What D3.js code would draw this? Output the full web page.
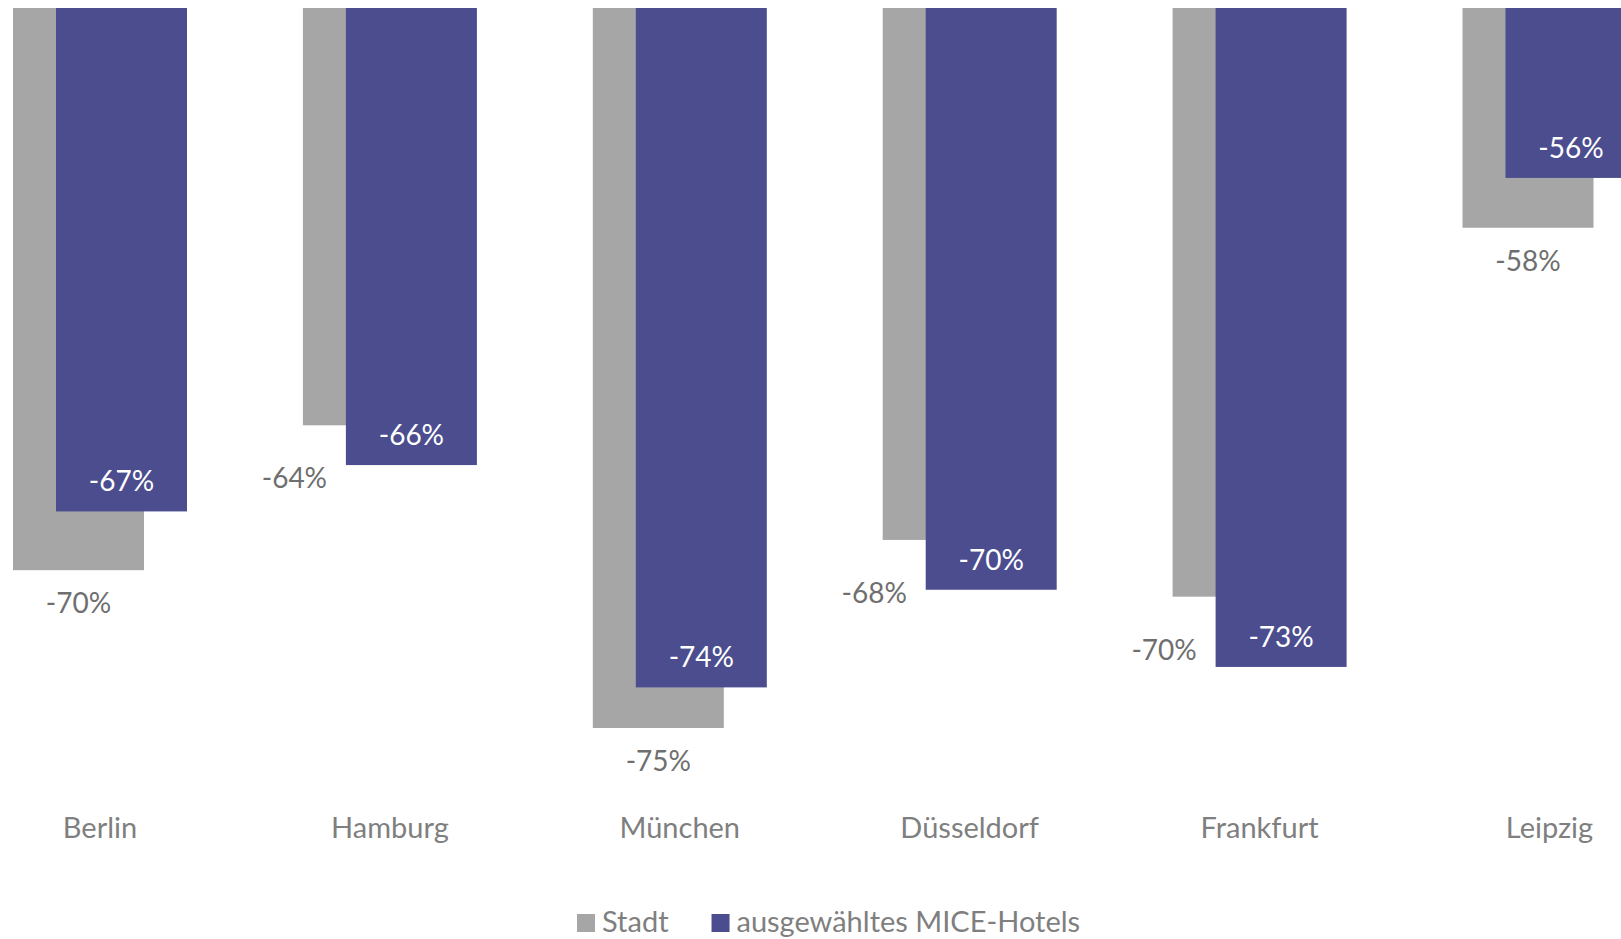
<html>

<head>
    <meta charset="utf-8">
    <script src="https://cdnjs.cloudflare.com/ajax/libs/d3/7.1.1/d3.js"></script>
    <style>
        body { margin: 0; overflow: hidden; background: #fff; }
    </style>
</head>

<body>
    <script>
        // chart data (in percent)
        const cities = ['Berlin', 'Hamburg', 'München', 'Düsseldorf', 'Frankfurt', 'Leipzig'];
        const series = ['Stadt', 'ausgewähltes MICE-Hotels'];
        const stadt = [-69.52, -64.49, -75.0, -68.47, -70.44, -57.63];
        const mice = [-67.48, -65.87, -73.59, -70.2, -72.88, -55.9];
        const colors = ['#A6A6A6', '#4B4D8F'];

        const width = 1621;
        const height = 939;
        const font = 'Lato, "Open Sans", sans-serif';
        const fontSize = 28;

        const svg = d3.select('body').append('svg')
            .attr('width', width)
            .attr('height', height);

        // value axis: top of the visible plot sits at -50%
        const y = d3.scaleLinear().domain([-50, -80]).range([8, 8 + 30 * 28.8]);
        const step = 289.9;
        const x = d3.scaleBand()
            .domain(cities)
            .range([100 - step / 2, 100 + step * (cities.length - 0.5)])
            .padding(0);
        const barW = 131;
        // overlapping bars inside each group
        const xs = d3.scalePoint().domain(series).range([-21.5, 21.5]);

        const rows = cities.map((c, i) => ({ city: c, values: [stadt[i], mice[i]] }));

        const g = svg.append('g');

        series.forEach((s, si) => {
            g.selectAll('.bar' + si)
                .data(rows)
                .enter().append('rect')
                .attr('class', 'bar' + si)
                .attr('x', d => x(d.city) + x.bandwidth() / 2 + xs(s) - barW / 2)
                .attr('y', y(-50))
                .attr('width', barW)
                .attr('height', d => y(d.values[si]) - y(-50))
                .style('fill', colors[si]);
        });

        const fmt = v => Math.round(v) + '%';

        // Stadt labels: below the grey bar, or moved left when the purple bar goes lower
        g.selectAll('.lab0')
            .data(rows)
            .enter().append('text')
            .attr('class', 'lab0')
            .attr('x', d => {
                const cx = x(d.city) + x.bandwidth() / 2 + xs(series[0]);
                return d.values[0] < d.values[1] ? cx : cx - 74;
            })
            .attr('y', d => y(d.values[0]) + (d.values[0] < d.values[1] ? 43 : 63))
            .attr('text-anchor', 'middle')
            .attr('font-family', font)
            .attr('font-size', fontSize)
            .style('fill', '#6F6F6F')
            .text(d => fmt(d.values[0]));

        // MICE labels: inside the purple bar, near its end
        g.selectAll('.lab1')
            .data(rows)
            .enter().append('text')
            .attr('class', 'lab1')
            .attr('x', d => x(d.city) + x.bandwidth() / 2 + xs(series[1]))
            .attr('y', d => y(d.values[1]) - 20)
            .attr('text-anchor', 'middle')
            .attr('font-family', font)
            .attr('font-size', fontSize)
            .style('fill', '#ffffff')
            .text(d => fmt(d.values[1]));

        // category labels
        g.selectAll('.cat')
            .data(cities)
            .enter().append('text')
            .attr('class', 'cat')
            .attr('x', d => x(d) + x.bandwidth() / 2)
            .attr('y', 838)
            .attr('text-anchor', 'middle')
            .attr('font-family', font)
            .attr('font-size', 29)
            .style('fill', '#7F7F7F')
            .text(d => d);

        // legend at the bottom (the chart is wider than the window, so it sits right of centre)
        const legend = svg.append('g').attr('transform', 'translate(577, 932)');
        let lx = 0;
        series.forEach((s, i) => {
            const item = legend.append('g').attr('transform', `translate(${lx},0)`);
            item.append('rect')
                .attr('x', 0).attr('y', -18)
                .attr('width', 18).attr('height', 18)
                .style('fill', colors[i]);
            const t = item.append('text')
                .attr('x', 25).attr('y', 0)
                .attr('font-family', font)
                .attr('font-size', 29)
                .style('fill', '#7F7F7F')
                .text(s);
            lx += 25 + t.node().getComputedTextLength() + 43;
        });
    </script>
</body>

</html>
